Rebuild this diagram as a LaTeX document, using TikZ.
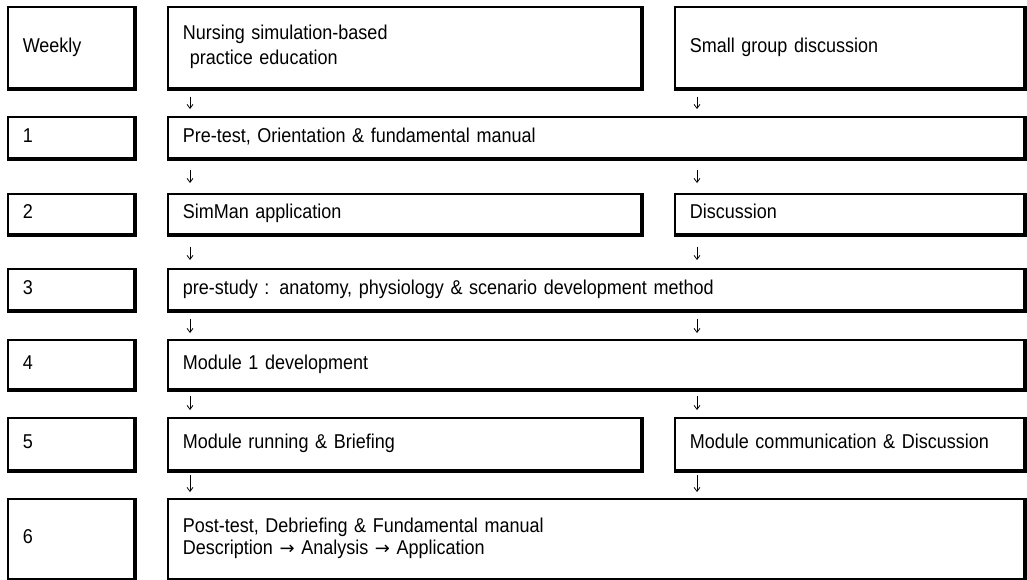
\documentclass[tikz,border=0pt]{standalone}
\usepackage{fontspec}
\setmainfont{Liberation Sans}[WordSpace=2.35, FakeStretch=0.9]
\newfontfamily\arrowfont{DejaVu Sans}
\usetikzlibrary{arrows.meta}
\newcommand{\bxstrut}{\rule[-4.5pt]{0pt}{19pt}}
\newcommand{\rarr}{{\arrowfont\fontsize{18}{22}\selectfont →}}
\begin{document}
\begin{tikzpicture}[x=1pt,y=-1pt,
  box/.style={draw, line width=1.6, rectangle, anchor=north west, inner xsep=15, inner ysep=0,
    align=left, font=\fontsize{20}{22}\selectfont,
    execute at begin node=\bxstrut, execute at end node=\bxstrut},
  shadowline/.style={line width=1.2},
  arr/.style={-{Straight Barb[length=4,width=6]}, line width=0.8}]
\useasboundingbox (0,0) rectangle (1027,580);
% header row
\node[box, minimum width=126, minimum height=81, text width=96] (hw) at (7,6) {Weekly};
\node[box, minimum width=473, minimum height=81, text width=443] (hm) at (167,6) {Nursing simulation-based\\[3pt]\hspace*{7pt}practice education};
\node[box, minimum width=349, minimum height=81, text width=319] (hr) at (674,6) {Small group discussion};
% row 1
\node[box, minimum width=126, minimum height=41, text width=96] (w1) at (7,116) {1};
\node[box, minimum width=856, minimum height=41, text width=826] (r1) at (167,116) {Pre-test, Orientation \& fundamental manual};
% row 2
\node[box, minimum width=126, minimum height=40, text width=96] (w2) at (7,193) {2};
\node[box, minimum width=473, minimum height=40, text width=443] (m2) at (167,193) {SimMan application};
\node[box, minimum width=349, minimum height=40, text width=319] (rr2) at (674,193) {Discussion};
% row 3
\node[box, minimum width=126, minimum height=41, text width=96] (w3) at (7,268) {3};
\node[box, minimum width=856, minimum height=41, text width=826] (r3) at (167,268) {pre-study : anatomy, physiology \& scenario development method};
% row 4
\node[box, minimum width=126, minimum height=49, text width=96] (w4) at (7,339) {4};
\node[box, minimum width=856, minimum height=49, text width=826] (r4) at (167,339) {Module 1 development};
% row 5
\node[box, minimum width=126, minimum height=52, text width=96] (w5) at (7,417) {5};
\node[box, minimum width=473, minimum height=52, text width=443] (m5) at (167,417) {Module running \& Briefing};
\node[box, minimum width=349, minimum height=52, text width=319] (rr5) at (674,417) {Module communication \& Discussion};
% row 6
\node[box, minimum width=126, minimum height=80, text width=96] (w6) at (7,498) {6};
\node[box, minimum width=856, minimum height=80, text width=826] (r6) at (167,498) {Post-test, Debriefing \& Fundamental manual\\Description \rarr{} Analysis \rarr{} Application};
% shadows
\foreach \n in {hw,hm,hr,w1,r1,w2,m2,rr2,w3,r3,w4,r4,w5,m5,rr5,w6,r6}
  \draw[shadowline] ([shift={(1.4,0.2)}]\n.north east) -- ([shift={(1.4,1.4)}]\n.south east) -- ([shift={(0.2,1.4)}]\n.south west);
% arrow columns
\coordinate (ax) at (190,0);
\coordinate (bx) at (697,0);
\draw[arr, shorten <=8, shorten >=7] (hm.south -| ax) -- (r1.north -| ax);
\draw[arr, shorten <=8, shorten >=7] (hr.south -| bx) -- (r1.north -| bx);
\draw[arr, shorten <=11, shorten >=10] (r1.south -| ax) -- (m2.north -| ax);
\draw[arr, shorten <=11, shorten >=10] (r1.south -| bx) -- (rr2.north -| bx);
\draw[arr, shorten <=12, shorten >=8] (m2.south -| ax) -- (r3.north -| ax);
\draw[arr, shorten <=12, shorten >=8] (rr2.south -| bx) -- (r3.north -| bx);
\draw[arr, shorten <=8, shorten >=6] (r3.south -| ax) -- (r4.north -| ax);
\draw[arr, shorten <=8, shorten >=6] (r3.south -| bx) -- (r4.north -| bx);
\draw[arr, shorten <=6, shorten >=7] (r4.south -| ax) -- (m5.north -| ax);
\draw[arr, shorten <=6, shorten >=7] (r4.south -| bx) -- (rr5.north -| bx);
\draw[arr, shorten <=4, shorten >=6] (m5.south -| ax) -- (r6.north -| ax);
\draw[arr, shorten <=4, shorten >=6] (rr5.south -| bx) -- (r6.north -| bx);
\end{tikzpicture}
\end{document}
